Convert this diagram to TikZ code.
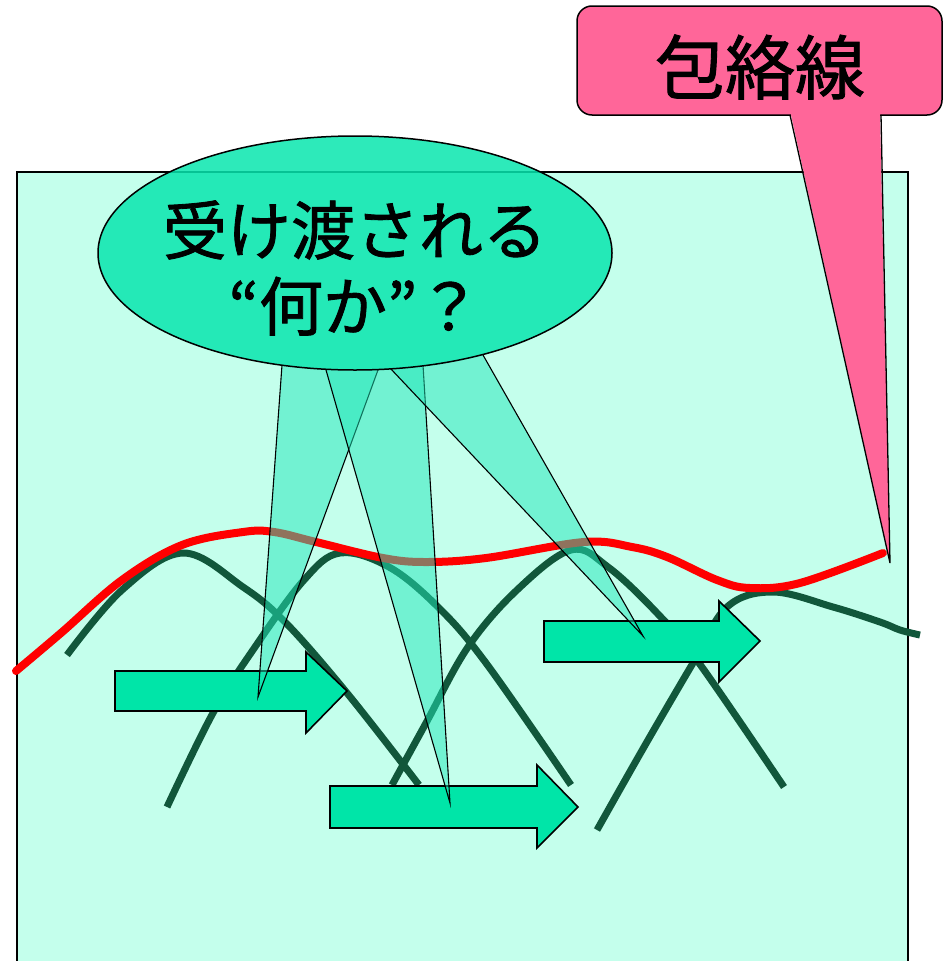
\documentclass[tikz,border=0pt]{standalone}
\usepackage{fontspec}
\newfontfamily\jpfont[FakeBold=1.3]{Noto Sans CJK JP}
\usetikzlibrary{shapes.geometric}
\definecolor{bgc}{RGB}{196,255,236}
\definecolor{ellc}{RGB}{8,230,174}
\definecolor{beamc}{RGB}{34,231,186}
\definecolor{arrc}{RGB}{0,229,168}
\definecolor{pinkc}{RGB}{255,102,153}
\definecolor{wavec}{RGB}{17,87,59}
\definecolor{envc}{RGB}{255,0,0}
\begin{document}
\begin{tikzpicture}[x=1pt,y=-1pt,
  wave/.style={draw=wavec,line width=7pt},
  envline/.style={draw=envc,line width=8pt,line cap=round},
  blockarrow/.style={draw=black,line width=1.6pt,fill=arrc,line join=miter},
  beamfill/.style={fill=beamc,fill opacity=0.5},
  beamedge/.style={draw=black,line width=1.1pt},
  bigtext/.style={font=\jpfont\fontsize{64}{76}\selectfont,align=center}]
\useasboundingbox (0,0) rectangle (948,961);
% background panel
\fill[bgc] (17,172) rectangle (908,961);
\draw[line width=1.4pt] (17,961) -- (17,172) -- (908,172) -- (908,961);
% waves
\draw[wave] plot[smooth,tension=0.6] coordinates {(67,655) (122,590) (183,553) (243,587) (286,623) (347,693) (419,785)};
\draw[wave] plot[smooth,tension=0.6] coordinates {(167,807) (213,713) (255,647) (304,580) (340,553) (389,567) (438,607) (486,663) (571,785)};
\draw[wave] plot[smooth,tension=0.6] coordinates {(392,785) (426,723) (468,647) (517,590) (571,550) (608,567) (657,613) (699,663) (784,787)};
\draw[wave] plot[smooth,tension=0.6] coordinates {(597,830) (644,747) (693,663) (727,607) (773,592) (833,607) (880,622) (900,630) (920,635)};
% envelope
\draw[envline] plot[smooth,tension=0.6] coordinates {(16,671) (61,633) (122,580) (182,545) (243,532) (274,532) (316,542) (383,558) (426,562) (486,558) (584,542) (632,547) (667,557) (717,580) (750,588) (800,583) (883,553)};
% block arrows
\draw[blockarrow] (115,671) -- (306,671) -- (306,652) -- (347,691) -- (306,733) -- (306,711) -- (115,711) -- cycle;
\draw[blockarrow] (330,786) -- (537,786) -- (537,765) -- (578,807) -- (537,848) -- (537,828) -- (330,828) -- cycle;
\draw[blockarrow] (544,621) -- (719,621) -- (719,601) -- (760,641) -- (719,682) -- (719,662) -- (544,662) -- cycle;
% beams (kept outside the ellipse)
\coordinate (b1a) at (282,365); \coordinate (b1b) at (378,370); \coordinate (t1) at (258,697);
\coordinate (b2a) at (326,370); \coordinate (b2b) at (423,365); \coordinate (t2) at (450,803);
\coordinate (b3a) at (390,368); \coordinate (b3b) at (483,355); \coordinate (t3) at (643,636);
\begin{scope}[even odd rule]
\clip (0,0) rectangle (948,961) (355,253) ellipse [x radius=257, y radius=117];
\fill[beamfill] (b1a) -- (t1) -- (b1b) -- (330,330) -- cycle;
\draw[beamedge] (b1a) -- (t1) -- (b1b);
\fill[beamfill] (b2a) -- (t2) -- (b2b) -- (375,330) -- cycle;
\draw[beamedge] (b2a) -- (t2) -- (b2b);
\fill[beamfill] (b3a) -- (t3) -- (b3b) -- (435,325) -- cycle;
\draw[beamedge] (b3a) -- (t3) -- (b3b);
\end{scope}
% ellipse with question
\node[ellipse,draw=black,line width=1.5pt,fill=ellc,fill opacity=0.85,text opacity=1,
  minimum width=514pt,minimum height=234pt,inner sep=0pt] (q) at (355,253) {};
\node[bigtext] (qt) at (355,268) {受け渡される\\“何か”？};
% callout
\draw[line width=1.5pt,fill=pinkc,rounded corners=15pt] (577,6) rectangle (942,115);
\fill[pinkc] (791,100) -- (791,115) -- (890,563) -- (880,115) -- (880,100) -- cycle;
\draw[line width=1.3pt] (790,115) -- (890,563) -- (881,115);
\node[font=\jpfont\fontsize{70}{80}\selectfont] (env) at (760,67) {包絡線};
\end{tikzpicture}
\end{document}
